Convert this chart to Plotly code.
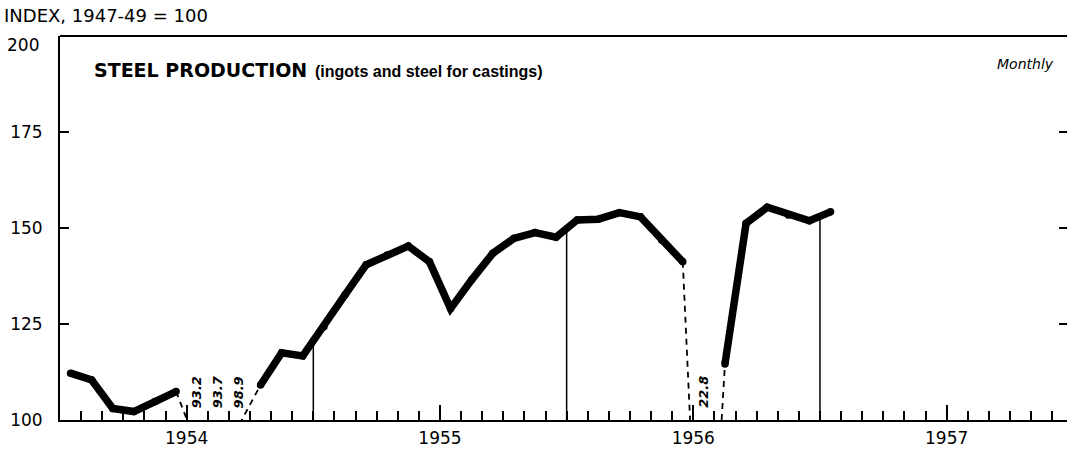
import numpy as np
import plotly.graph_objects as go

# ---- data (monthly index, 1947-49 = 100), Jan 1954 .. Jan 1957 ----
months = [f"{y}-{m:02d}" for y in (1954, 1955, 1956) for m in range(1, 13)] + ["1957-01"]
values = [
    112.2, 110.4, 103.0, 102.2, 104.8, 107.4, 93.2, 93.7, 98.9, 109.1, 117.5, 116.7,   # 1954
    124.3, 132.6, 140.4, 143.0, 145.3, 141.2, 129.0, 136.5, 143.4, 147.3, 148.8, 147.6,  # 1955
    152.1, 152.3, 154.0, 152.9, 146.9, 141.2, 22.8, 114.6, 151.2, 155.4, 153.4, 151.9,   # 1956
    154.2,                                                                                # 1957
]
years = [1954, 1955, 1956, 1957]
y_ticks = [100, 125, 150, 175]
y_top = 200
y_min = 100

# ---- geometry helpers (layout only) ----
W, H = 1067, 449
L, R, T, B = 60, 0, 36, 29
PW, PH = W - L - R, H - T - B
MONTH_PX = 21.11
x_max = PW / MONTH_PX

def px_x(px):
    return (px - L) / PW

def px_y(py):
    return (H - B - py) / PH

x = np.arange(len(values)) + 0.5
v = np.array(values, dtype=float)
off = v < y_min
solid = np.where(off, np.nan, v)

fig = go.Figure()

# dashed connectors around off-scale months (clipped at the baseline by the axis)
dx, dy = [], []
for i in range(len(v) - 1):
    if off[i] or off[i + 1]:
        dx += [x[i], x[i + 1], None]
        dy += [v[i], v[i + 1], None]
fig.add_trace(go.Scatter(x=dx, y=dy, mode="lines",
                         line=dict(color="black", width=1.8, dash="6px,5px"),
                         hoverinfo="skip", showlegend=False))

# main thick line
fig.add_trace(go.Scatter(x=x, y=solid, mode="lines+markers",
                         line=dict(color="black", width=7.5),
                         marker=dict(color="black", size=7.5),
                         connectgaps=False, hoverinfo="skip", showlegend=False))

# dummy trace for right-side ticks
fig.add_trace(go.Scatter(x=[x[0]], y=[y_min], yaxis="y2", mode="markers",
                         marker=dict(opacity=0), hoverinfo="skip", showlegend=False))

shapes = []
# year-boundary drop lines
for k in range(1, len(years)):
    xb = 12 * k
    yv = float(np.interp(xb, x, v))
    shapes.append(dict(type="line", xref="x", yref="y", x0=xb, x1=xb, y0=y_min, y1=yv,
                       line=dict(color="black", width=1.5)))
# top frame
shapes.append(dict(type="line", xref="paper", yref="paper", x0=0, x1=1, y0=1, y1=1,
                   line=dict(color="black", width=2)))

annotations = []
# off-scale value labels
for xi, vi, o in zip(x, v, off):
    if o:
        annotations.append(dict(x=xi, y=107.3, xref="x", yref="y", text=f"{vi:.1f}",
                                showarrow=False, textangle=-90,
                                font=dict(family="DejaVu Sans", size=13, color="black",
                                          style="italic", weight=600)))

annotations += [
    dict(x=px_x(2), y=px_y(15), xref="paper", yref="paper", xanchor="left", yanchor="middle",
         text="INDEX, 1947-49 = 100", showarrow=False,
         font=dict(family="DejaVu Sans", size=18, color="black")),
    dict(x=px_x(41), y=px_y(45), xref="paper", yref="paper", xanchor="right", yanchor="middle",
         text=str(y_top), showarrow=False,
         font=dict(family="DejaVu Sans", size=17, color="black")),
    dict(x=px_x(92), y=px_y(70), xref="paper", yref="paper", xanchor="left", yanchor="middle",
         text="<b>STEEL PRODUCTION</b>", showarrow=False,
         font=dict(family="DejaVu Sans", size=19, color="black")),
    dict(x=px_x(313), y=px_y(71), xref="paper", yref="paper", xanchor="left", yanchor="middle",
         text="<b>(ingots and steel for castings)</b>", showarrow=False,
         font=dict(family="Liberation Sans", size=16, color="black")),
    dict(x=px_x(1056), y=px_y(64), xref="paper", yref="paper", xanchor="right", yanchor="middle",
         text="Monthly", showarrow=False,
         font=dict(family="DejaVu Sans", size=14, color="black", style="italic")),
]

fig.update_layout(
    width=W, height=H,
    margin=dict(l=L, r=R, t=T, b=B, pad=0, autoexpand=False),
    paper_bgcolor="white", plot_bgcolor="white",
    showlegend=False,
    xaxis=dict(range=[0, x_max], showgrid=False, zeroline=False, automargin=False,
               showline=True, linecolor="black", linewidth=2,
               tickmode="array", tickvals=[12 * i + 6 for i in range(len(years))],
               ticktext=[str(yy) for yy in years],
               ticks="inside", ticklen=15, tickwidth=1.5, tickcolor="black",
               tickfont=dict(family="DejaVu Sans", size=17, color="black"),
               ticklabelstandoff=2,
               minor=dict(tickmode="array", tickvals=list(range(1, int(x_max) + 1)),
                          ticks="inside", ticklen=9, tickwidth=1.5, tickcolor="black")),
    yaxis=dict(range=[y_min, y_top], showgrid=False, zeroline=False, automargin=False,
               showline=True, linecolor="black", linewidth=2,
               tickmode="array", tickvals=y_ticks, ticktext=[str(t) for t in y_ticks],
               ticks="inside", ticklen=9, tickwidth=1.5, tickcolor="black",
               tickfont=dict(family="DejaVu Sans", size=17, color="black"),
               ticklabelstandoff=12),
    yaxis2=dict(range=[y_min, y_top], overlaying="y", side="right", showgrid=False,
                zeroline=False, showline=False, automargin=False,
                tickmode="array", tickvals=y_ticks[1:],
                ticks="inside", ticklen=8, tickwidth=1.5, tickcolor="black",
                showticklabels=False),
    shapes=shapes,
    annotations=annotations,
)

fig.write_html("out.html", config={"displayModeBar": False},
               post_script="document.body.style.margin='0px';document.body.style.overflow='hidden';")
